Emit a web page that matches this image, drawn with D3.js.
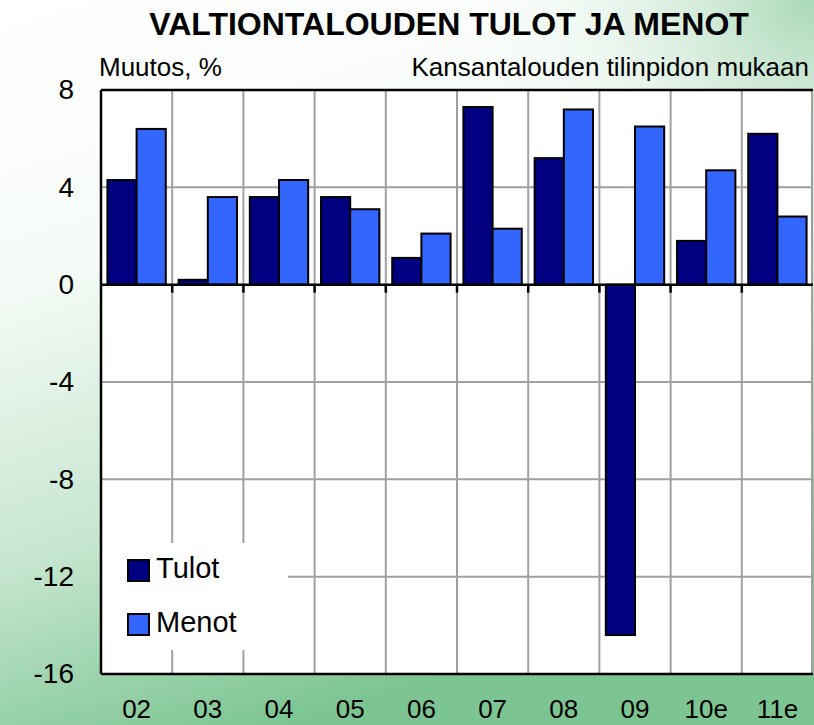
<!DOCTYPE html>
<html>
<head>
<meta charset="utf-8">
<script src="https://cdn.jsdelivr.net/npm/d3@7"></script>
<style>
  body { margin: 0; }
  svg { display: block; font-family: "Liberation Sans", Arial, sans-serif; }
</style>
</head>
<body>
<div id="chart"></div>
<script>
const years = ['02', '03', '04', '05', '06', '07', '08', '09', '10e', '11e'];
const tulot = [4.3, 0.2, 3.6, 3.6, 1.1, 7.3, 5.2, -14.4, 1.8, 6.2];
const menot = [6.4, 3.6, 4.3, 3.1, 2.1, 2.3, 7.2, 6.5, 4.7, 2.8];
const seriesNames = ['Tulot', 'Menot'];
const seriesColors = ['#000080', '#3366ff'];
const yTicks = [8, 4, 0, -4, -8, -12, -16];

const width = 814;
const height = 725;
const margin = { top: 90, right: 1, bottom: 51, left: 101 };

const svg = d3.select('#chart').append('svg')
    .attr('width', width)
    .attr('height', height);

// background
const defs = svg.append('defs');
const bg = defs.append('linearGradient')
    .attr('id', 'bg')
    .attr('x1', 0).attr('y1', 0).attr('x2', 0.35).attr('y2', 1);
bg.append('stop').attr('offset', '0%').attr('stop-color', '#ffffff');
bg.append('stop').attr('offset', '35%').attr('stop-color', '#f6fbf7');
bg.append('stop').attr('offset', '70%').attr('stop-color', '#c6e6cf');
bg.append('stop').attr('offset', '100%').attr('stop-color', '#7cc592');
const corner = defs.append('radialGradient')
    .attr('id', 'corner')
    .attr('cx', 1).attr('cy', 0).attr('r', 0.45);
corner.append('stop').attr('offset', '0%').attr('stop-color', '#a9d8b6').attr('stop-opacity', 1);
corner.append('stop').attr('offset', '100%').attr('stop-color', '#ffffff').attr('stop-opacity', 0);

svg.append('rect').attr('width', width).attr('height', height).attr('fill', 'url(#bg)');
svg.append('rect').attr('width', width).attr('height', height).attr('fill', 'url(#corner)');

const x = d3.scaleBand()
    .domain(years)
    .range([margin.left, width - margin.right]);

const xInner = d3.scaleBand()
    .domain(seriesNames)
    .range([0, x.bandwidth()])
    .paddingOuter(0.22);

const y = d3.scaleLinear()
    .domain([-16, 8])
    .range([height - margin.bottom, margin.top]);

// plot area
svg.append('rect')
    .attr('x', margin.left)
    .attr('y', margin.top)
    .attr('width', width - margin.right - margin.left)
    .attr('height', y(-16) - y(8))
    .attr('fill', '#fff');

// grid
const grid = svg.append('g').attr('stroke', '#a0a0a0').attr('stroke-width', 2);
grid.selectAll('.hgrid')
    .data(yTicks.filter(d => d !== 8 && d !== -16 && d !== 0))
    .enter().append('line')
    .attr('x1', margin.left).attr('x2', width - margin.right)
    .attr('y1', d => y(d)).attr('y2', d => y(d));
grid.selectAll('.vgrid')
    .data(years.slice(1).map(d => x(d)).concat([width - margin.right - 1]))
    .enter().append('line')
    .attr('x1', d => d).attr('x2', d => d)
    .attr('y1', y(8)).attr('y2', y(-16));

// bars
const data = [tulot, menot];
const groups = svg.append('g').selectAll('g')
    .data(years)
    .enter().append('g')
    .attr('transform', d => `translate(${x(d)},0)`);

groups.selectAll('rect')
    .data((d, i) => seriesNames.map((s, j) => ({ s, v: data[j][i], c: seriesColors[j] })))
    .enter().append('rect')
    .attr('x', d => xInner(d.s))
    .attr('width', xInner.bandwidth())
    .attr('y', d => y(Math.max(0, d.v)))
    .attr('height', d => Math.abs(y(d.v) - y(0)))
    .attr('fill', d => d.c)
    .attr('stroke', '#000')
    .attr('stroke-width', 2);

// legend
const legend = svg.append('g');
legend.append('rect')
    .attr('x', margin.left + 1).attr('y', 543)
    .attr('width', 186).attr('height', 107)
    .attr('fill', '#fff');
seriesNames.forEach((s, i) => {
    const ly = 560 + i * 54;
    legend.append('rect')
        .attr('x', 128).attr('y', ly)
        .attr('width', 21).attr('height', 21)
        .attr('fill', seriesColors[i])
        .attr('stroke', '#000').attr('stroke-width', 2);
    legend.append('text')
        .attr('x', 156).attr('y', ly + 18)
        .attr('font-size', 29)
        .text(s);
});

// axes frame
const frame = svg.append('g').attr('stroke', '#000').attr('stroke-width', 2.5).attr('fill', 'none');
frame.append('line').attr('x1', margin.left).attr('x2', margin.left).attr('y1', y(8)).attr('y2', y(-16));
frame.append('line').attr('x1', margin.left).attr('x2', width - margin.right).attr('y1', y(8)).attr('y2', y(8));
frame.append('line').attr('x1', margin.left).attr('x2', width - margin.right).attr('y1', y(-16)).attr('y2', y(-16));
frame.append('line').attr('x1', margin.left).attr('x2', width - margin.right).attr('y1', y(0)).attr('y2', y(0));

// ticks under zero line
svg.append('g')
    .attr('transform', `translate(0,${y(0)})`)
    .selectAll('line')
    .data(years.slice(1))
    .enter().append('line')
    .attr('x1', d => x(d)).attr('x2', d => x(d))
    .attr('y1', 0).attr('y2', 8)
    .attr('stroke', '#000').attr('stroke-width', 2.5);

// y labels
const yAxis = d3.axisLeft(y).tickValues(yTicks).tickSize(0).tickPadding(27)
    .tickFormat(d => String(d));
svg.append('g')
    .attr('transform', `translate(${margin.left},0)`)
    .call(yAxis)
    .call(g => g.select('.domain').remove())
    .selectAll('text')
    .attr('font-family', '"Liberation Sans", Arial, sans-serif')
    .attr('font-size', 28)
    .attr('fill', '#000');

// x labels
svg.append('g').selectAll('text')
    .data(years)
    .enter().append('text')
    .attr('x', d => x(d) + x.bandwidth() / 2)
    .attr('y', 718)
    .attr('text-anchor', 'middle')
    .attr('font-size', 26)
    .text(d => d);

// titles
svg.append('text')
    .attr('x', 449).attr('y', 35)
    .attr('text-anchor', 'middle')
    .attr('font-size', 32)
    .attr('font-weight', 'bold')
    .text('VALTIONTALOUDEN TULOT JA MENOT');
svg.append('text')
    .attr('x', 99).attr('y', 76)
    .attr('font-size', 26)
    .text('Muutos, %');
svg.append('text')
    .attr('x', 809).attr('y', 76)
    .attr('text-anchor', 'end')
    .attr('font-size', 26)
    .text('Kansantalouden tilinpidon mukaan');
</script>
</body>
</html>
